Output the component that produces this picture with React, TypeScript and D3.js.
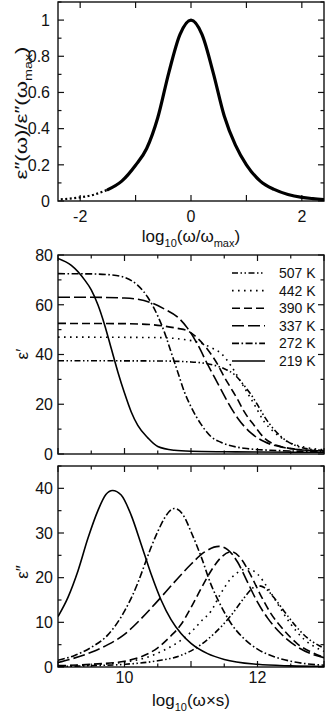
import * as d3 from 'd3'

type Pt = [number, number]

// master curve, normalised loss vs log10(w/wmax)
const normX = [-2.35, -2.0, -1.75, -1.5, -1.25, -1.0, -0.8, -0.6, -0.4, -0.2, 0, 0.2, 0.4, 0.6, 0.8, 1.0, 1.25, 1.5, 1.75, 2.0, 2.2, 2.4]
const normY = [0.009, 0.02, 0.035, 0.063, 0.11, 0.198, 0.29, 0.46, 0.71, 0.92, 1.0, 0.92, 0.71, 0.47, 0.31, 0.2, 0.11, 0.064, 0.036, 0.02, 0.013, 0.008]

const temps = ['507 K', '442 K', '390 K', '337 K', '272 K', '219 K']

// eps' (real part) per temperature
const ep507: Pt[] = [[9, 37.5], [10.5, 37.4], [11, 37], [11.3, 36], [11.5, 34.3], [11.65, 32], [11.8, 27.5], [11.9, 24], [12, 19.8], [12.1, 15.2], [12.25, 9.8], [12.4, 6], [12.6, 3.1], [12.8, 1.9], [13, 1.4]]
const ep442: Pt[] = [[9, 47], [10.5, 46.8], [10.9, 46], [11.1, 45], [11.3, 42.8], [11.45, 40.5], [11.6, 35.5], [11.75, 29], [11.85, 24.5], [11.95, 20], [12.1, 13], [12.25, 8.8], [12.45, 5], [12.7, 2.8], [13, 1.7]]
const ep390: Pt[] = [[9, 52.5], [10, 52.4], [10.4, 52], [10.6, 51.4], [10.8, 50.5], [10.95, 49.5], [11.1, 46.5], [11.25, 42], [11.4, 36], [11.5, 31], [11.6, 26.5], [11.7, 22], [11.8, 17], [11.95, 11.5], [12.1, 6.5], [12.3, 3.4], [12.6, 1.9], [13, 1.2]]
const ep337: Pt[] = [[9, 63], [9.5, 63], [10, 62.7], [10.2, 62.2], [10.4, 60.8], [10.6, 58.3], [10.8, 55], [10.95, 50.5], [11.1, 44], [11.25, 36], [11.4, 28.5], [11.55, 21], [11.7, 14.5], [11.9, 8.5], [12.1, 5], [12.4, 2.6], [12.7, 1.6], [13, 1.2]]
const ep272: Pt[] = [[9, 72.5], [9.5, 72.4], [9.8, 72], [10, 71], [10.2, 67.8], [10.35, 63], [10.5, 55.5], [10.6, 49], [10.7, 41], [10.8, 33], [10.9, 25], [11, 19], [11.15, 12], [11.3, 7], [11.45, 4.7], [11.8, 2.3], [12.2, 1.5], [13, 1]]
const ep219: Pt[] = [[9, 78.6], [9.2, 75.8], [9.4, 70], [9.5, 66], [9.6, 60], [9.7, 52], [9.8, 42.5], [9.9, 33], [10, 24.5], [10.1, 17], [10.2, 11.5], [10.35, 6.5], [10.5, 3], [10.75, 1.5], [11, 1.1], [11.5, 0.9], [12, 0.8], [13, 0.7]]

// eps'' (loss part) per temperature
const el507: Pt[] = [[9, 0.1], [9.5, 0.3], [10, 0.6], [10.5, 1.4], [10.85, 2.6], [11.1, 4.5], [11.35, 7.5], [11.6, 11.5], [11.8, 15.5], [11.9, 17.3], [12, 18.2], [12.1, 17.8], [12.25, 15.5], [12.4, 12.5], [12.55, 9.6], [12.75, 6.5], [12.9, 5], [13, 4.2]]
const el442: Pt[] = [[9, 0.2], [9.5, 0.5], [10, 1.1], [10.3, 2.0], [10.6, 3.8], [10.85, 6], [11, 7.8], [11.15, 10.2], [11.3, 12.5], [11.45, 16.5], [11.6, 19.8], [11.75, 21.6], [11.86, 22], [12, 20.8], [12.15, 17.8], [12.3, 14.2], [12.5, 9.6], [12.7, 6.2], [12.85, 4.6], [13, 3.5]]
const el390: Pt[] = [[9, 0.3], [9.5, 0.6], [10, 1.3], [10.25, 2.3], [10.5, 4.3], [10.7, 7], [10.85, 9.5], [11, 13.3], [11.15, 17.5], [11.3, 21.5], [11.45, 24.5], [11.61, 25.8], [11.75, 24.3], [11.9, 20.5], [12.05, 16], [12.2, 12], [12.4, 8.2], [12.6, 5.2], [12.8, 3.4], [13, 2.2]]
const el337: Pt[] = [[9, 1.0], [9.5, 3.3], [9.75, 5], [10, 7.3], [10.25, 10.8], [10.5, 14.8], [10.75, 19], [11, 23], [11.2, 25.7], [11.42, 27], [11.55, 26.3], [11.7, 23.5], [11.85, 19], [12, 14.5], [12.15, 11], [12.35, 7.5], [12.6, 4.5], [12.8, 3], [13, 2.1]]
const el272: Pt[] = [[9, 1.5], [9.25, 2.6], [9.5, 4.4], [9.75, 7.2], [10, 12.5], [10.2, 18.8], [10.3, 22.8], [10.4, 26.8], [10.5, 30.3], [10.6, 33.3], [10.75, 35.5], [10.9, 33.6], [11, 30.3], [11.15, 24.8], [11.3, 18.5], [11.45, 13.7], [11.6, 9.8], [11.8, 6.3], [12, 4], [12.25, 2.3], [12.5, 1.3], [12.75, 0.7], [13, 0.4]]
const el219: Pt[] = [[9, 11.3], [9.15, 15.6], [9.3, 21.5], [9.45, 28.8], [9.6, 35], [9.72, 38.6], [9.82, 39.5], [9.95, 38.5], [10.1, 34], [10.25, 27.5], [10.4, 20.8], [10.55, 15], [10.7, 10.6], [10.85, 7.5], [11, 5.3], [11.25, 3], [11.5, 1.7], [12, 0.6], [12.5, 0.25], [13, 0.1]]

const realSeries = [ep507, ep442, ep390, ep337, ep272, ep219]
const lossSeries = [el507, el442, el390, el337, el272, el219]

const dashFor: Record<string, string> = {
  '507 K': '6,2.5,1.5,2.5,1.5,2.5',
  '442 K': '1.6,4.4',
  '390 K': '8,4',
  '337 K': '12,4',
  '272 K': '7,2.5,1.6,2.5',
  '219 K': 'none'
}

const FONT = 'Liberation Sans, Arial, Helvetica, sans-serif'
const W = 327
const H = 717
const L = 58
const R = 324
const MAJ = 6
const MIN = 3.5

const x1 = d3.scaleLinear().domain([-2.4, 2.4]).range([L, R])
const y1 = d3.scaleLinear().domain([0, 1.1]).range([201, 2])
const x2 = d3.scaleLinear().domain([9, 13]).range([L, R])
const y2 = d3.scaleLinear().domain([0, 80]).range([454, 255])
const y3 = d3.scaleLinear().domain([0, 45]).range([667, 466])

type Scale = d3.ScaleLinear<number, number>

const fmt = (v: number) => d3.format('~g')(v).replace('−', '-')

function Frame({ id, x, y, xt, yt, xMajor, yMajor, xLabel, yLabel, xLabelDy, yLabelDx }: {
  id: string, x: Scale, y: Scale, xt: number[], yt: number[],
  xMajor: (v: number) => boolean, yMajor: (v: number) => boolean,
  xLabel: (v: number) => boolean, yLabel: (v: number) => boolean, xLabelDy: number, yLabelDx: number
}) {
  const [xa, xb] = x.range()
  const [yb, ya] = y.range()
  return (
    <g>
      <clipPath id={id}>
        <rect x={xa} y={ya} width={xb - xa} height={yb - ya} />
      </clipPath>
      <rect x={xa} y={ya} width={xb - xa} height={yb - ya} fill="none" stroke="#111" strokeWidth={1.4} />
      {xt.map(v => {
        const len = xMajor(v) ? MAJ : MIN
        const px = x(v)
        return (
          <g key={'x' + v}>
            <line x1={px} x2={px} y1={yb} y2={yb - len} stroke="#111" strokeWidth={1.2} />
            <line x1={px} x2={px} y1={ya} y2={ya + len} stroke="#111" strokeWidth={1.2} />
            {xLabel(v) && (
              <text x={px} y={yb + xLabelDy} textAnchor="middle" fontSize={16} fontFamily={FONT} fill="#111">{fmt(v)}</text>
            )}
          </g>
        )
      })}
      {yt.map(v => {
        const len = yMajor(v) ? MAJ : MIN
        const py = y(v)
        return (
          <g key={'y' + v}>
            <line x1={xa} x2={xa + len} y1={py} y2={py} stroke="#111" strokeWidth={1.2} />
            <line x1={xb} x2={xb - len} y1={py} y2={py} stroke="#111" strokeWidth={1.2} />
            {yLabel(v) && (
              <text x={xa - yLabelDx} y={py} dy="0.36em" textAnchor="end" fontSize={16} fontFamily={FONT} fill="#111">{fmt(v)}</text>
            )}
          </g>
        )
      })}
    </g>
  )
}

export default function App() {
  const mainIdx = normX.map((_, i) => i).filter(i => normX[i] >= -1.5)
  const tailIdx = normX.map((_, i) => i).filter(i => normX[i] <= -1.5)
  const normLine = d3.line<number>().x(i => x1(normX[i])).y(i => y1(normY[i])).curve(d3.curveMonotoneX)
  const mainPath = normLine(mainIdx) || ''
  const tailPath = normLine(tailIdx) || ''

  const realLine = d3.line<Pt>().x(d => x2(d[0])).y(d => y2(d[1])).curve(d3.curveMonotoneX)
  const lossLine = d3.line<Pt>().x(d => x2(d[0])).y(d => y3(d[1])).curve(d3.curveMonotoneX)

  const legendY = d3.scalePoint<string>().domain(temps).range([273, 361])
  const tenth = (v: number) => Math.abs(Math.round(v * 10) % 2) === 0

  return (
    <svg width={W} height={H} style={{ position: 'absolute', left: 0, top: 0, background: '#fff' }} fontFamily={FONT}>
      {/* top panel: normalised loss */}
      <Frame id="c1" x={x1} y={y1} xt={x1.ticks(5)} yt={y1.ticks(11)}
        xMajor={() => true} yMajor={tenth}
        xLabel={v => v % 2 === 0} yLabel={v => tenth(v) && v <= 1} xLabelDy={21} yLabelDx={8} />
      <g clipPath="url(#c1)">
        <path d={tailPath} fill="none" stroke="#000" strokeWidth={2.2} strokeDasharray="2,2.5" />
        <path d={mainPath} fill="none" stroke="#000" strokeWidth={3.2} strokeLinecap="round" />
      </g>
      <text x={191} y={242} textAnchor="middle" fontSize={17} fill="#111">
        log<tspan fontSize={11} dy={5}>10</tspan><tspan dy={-5}>(ω/ω</tspan><tspan fontSize={11} dy={5}>max</tspan><tspan dy={-5}>)</tspan>
      </text>
      <text transform="translate(27,113) rotate(-90)" textAnchor="middle" fontSize={17} fill="#111"
        textLength={133} lengthAdjust="spacingAndGlyphs">
        ε″(ω)/ε″(ω<tspan fontSize={11} dy={5}>max</tspan><tspan dy={-5}>)</tspan>
      </text>

      {/* middle panel: eps' */}
      <Frame id="c2" x={x2} y={y2} xt={x2.ticks(8)} yt={y2.ticks(8)}
        xMajor={v => Number.isInteger(v)} yMajor={v => v % 20 === 0}
        xLabel={() => false} yLabel={v => v % 20 === 0} xLabelDy={16} yLabelDx={5} />
      <g clipPath="url(#c2)">
        {realSeries.map((s, i) => (
          <path key={temps[i]} d={realLine(s) || ''} fill="none" stroke="#000" strokeWidth={1.6}
            strokeDasharray={dashFor[temps[i]]} />
        ))}
      </g>
      <text transform="translate(28,354) rotate(-90)" textAnchor="middle" fontSize={17} fill="#111">ε′</text>
      {temps.map(t => (
        <g key={t}>
          <line x1={232} x2={265} y1={legendY(t)} y2={legendY(t)} stroke="#000" strokeWidth={1.6} strokeDasharray={dashFor[t]} />
          <text x={279} y={legendY(t)} dy="0.36em" fontSize={14} fill="#111">{t}</text>
        </g>
      ))}

      {/* bottom panel: eps'' */}
      <Frame id="c3" x={x2} y={y3} xt={x2.ticks(8)} yt={y3.ticks(9)}
        xMajor={v => Number.isInteger(v)} yMajor={v => v % 10 === 0}
        xLabel={v => v % 2 === 0 && v > 9 && v < 13} yLabel={v => v % 10 === 0} xLabelDy={16} yLabelDx={5} />
      <g clipPath="url(#c3)">
        {lossSeries.map((s, i) => (
          <path key={temps[i]} d={lossLine(s) || ''} fill="none" stroke="#000" strokeWidth={1.6}
            strokeDasharray={dashFor[temps[i]]} />
        ))}
      </g>
      <text transform="translate(28,572) rotate(-90)" textAnchor="middle" fontSize={17} fill="#111">ε″</text>
      <text x={191} y={706} textAnchor="middle" fontSize={17} fill="#111">
        log<tspan fontSize={11} dy={5}>10</tspan><tspan dy={-5}>(ω×s)</tspan>
      </text>
    </svg>
  )
}
